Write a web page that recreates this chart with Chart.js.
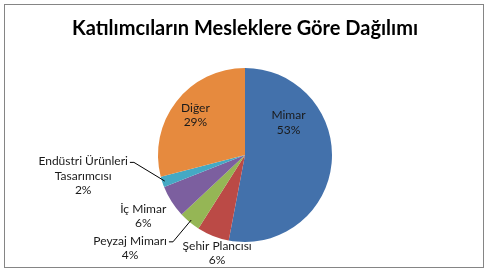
<!DOCTYPE html>
<html>
<head>
<meta charset="utf-8">
<script src="https://cdn.jsdelivr.net/npm/chart.js@4/dist/chart.umd.min.js"></script>
<style>
  html, body { margin: 0; padding: 0; background: #fff; }
  #wrap { width: 490px; height: 271px; position: relative; }
</style>
</head>
<body>
<div id="wrap"><canvas id="c" width="490" height="271"></canvas></div>
<script>
// Meslek grupları ve yüzdeleri
const categories = ['Mimar', 'Şehir Plancısı', 'Peyzaj Mimarı', 'İç Mimar', 'Endüstri Ürünleri Tasarımcısı', 'Diğer'];
const values = [53, 6, 4, 6, 2, 29];
const labelLines = [
  ['Mimar'],
  ['Şehir Plancısı'],
  ['Peyzaj Mimarı'],
  ['İç Mimar'],
  ['Endüstri Ürünleri', 'Tasarımcısı'],
  ['Diğer']
];
const colors = ['#4371AB', '#BB4A46', '#95B655', '#7C5F9F', '#45A9C4', '#E68A3E'];

// Etiket yerleşimi: dilim merkezine göre yarıçap cinsinden konum, gerekirse bağlantı çizgisi
const labelLayout = [
  { dx: 0.50, dy: -0.37, leader: false },
  { dx: -0.32, dy: 1.13, leader: false },
  { dx: -1.32, dy: 1.07, leader: true },
  { dx: -1.17, dy: 0.70, leader: false },
  { dx: -1.86, dy: 0.24, leader: true },
  { dx: -0.57, dy: -0.46, leader: false }
];

const FONT = 'Lato, "Open Sans", sans-serif';

const framePlugin = {
  id: 'frame',
  beforeDraw(chart) {
    const ctx = chart.ctx;
    ctx.save();
    ctx.fillStyle = '#ffffff';
    ctx.fillRect(0, 0, chart.width, chart.height);
    ctx.strokeStyle = '#858585';
    ctx.lineWidth = 1;
    ctx.strokeRect(4.5, 4.5, 479, 263);
    ctx.restore();
  }
};

const sliceLabels = {
  id: 'sliceLabels',
  afterDatasetsDraw(chart) {
    const ctx = chart.ctx;
    const meta = chart.getDatasetMeta(0);
    const total = values.reduce((a, b) => a + b, 0);
    ctx.save();
    ctx.font = '12px ' + FONT;
    ctx.fillStyle = '#1a1a1a';
    ctx.textAlign = 'center';
    ctx.textBaseline = 'middle';
    const lh = 14.5;
    meta.data.forEach((arc, i) => {
      const r = arc.outerRadius;
      const cx = arc.x, cy = arc.y;
      const lay = labelLayout[i];
      const lines = labelLines[i].concat([Math.round(values[i] / total * 100) + '%']);
      const x = cx + lay.dx * r;
      const y0 = cy + lay.dy * r - (lines.length - 1) * lh / 2;
      lines.forEach((t, k) => ctx.fillText(t, x, y0 + k * lh));
      if (lay.leader) {
        const w = ctx.measureText(lines[0]).width;
        const sx = x + w / 2 + 2;
        const sy = y0 + 1;
        const mid = (arc.startAngle + arc.endAngle) / 2;
        const ex = cx + Math.cos(mid) * r * 0.97;
        const ey = cy + Math.sin(mid) * r * 0.97;
        ctx.strokeStyle = '#000';
        ctx.lineWidth = 1;
        ctx.beginPath();
        ctx.moveTo(sx, sy);
        ctx.lineTo(sx + 4, sy);
        ctx.lineTo(ex, ey);
        ctx.stroke();
      }
    });
    ctx.restore();
  }
};

new Chart(document.getElementById('c'), {
  type: 'pie',
  data: {
    labels: categories,
    datasets: [{
      data: values,
      backgroundColor: colors,
      borderWidth: 0
    }]
  },
  options: {
    responsive: false,
    animation: false,
    layout: { padding: { top: 10, bottom: 29, left: 0, right: 0 } },
    plugins: {
      legend: { display: false },
      tooltip: { enabled: false },
      title: {
        display: true,
        text: 'Katılımcıların Mesleklere Göre Dağılımı',
        color: '#000',
        font: { family: FONT, size: 20, weight: 'bold' },
        padding: { top: 7, bottom: 27 }
      }
    }
  },
  plugins: [framePlugin, sliceLabels]
});
</script>
</body>
</html>
